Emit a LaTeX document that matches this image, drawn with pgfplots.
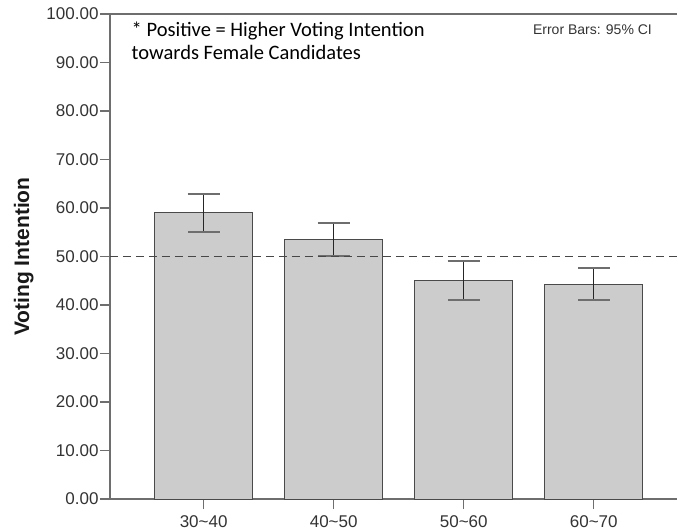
\documentclass[border=0pt]{standalone}
\usepackage{fontspec}
\setmainfont{Liberation Sans}
\newfontfamily\calfont{Carlito}
\usepackage{pgfplots}
\pgfplotsset{compat=1.18}
\definecolor{axisgray}{HTML}{6E6E6E}
\definecolor{barfill}{HTML}{CCCCCC}
\definecolor{baredge}{HTML}{4A4A4A}
\definecolor{txtgray}{HTML}{333333}
\begin{document}
\begin{tikzpicture}
\useasboundingbox (-110pt,-32pt) rectangle (568pt,499pt);
\begin{axis}[
  scale only axis,
  width=567pt, height=485pt,
  xmin=-0.72, xmax=3.64,
  ymin=0, ymax=100,
  axis lines*=left,
  axis line style={draw=axisgray, line width=1.4pt},
  xtick={0,1,2,3},
  xticklabels={30\textasciitilde40,40\textasciitilde50,50\textasciitilde60,60\textasciitilde70},
  ytick={0,10,...,100},
  tick align=outside,
  major tick length=10pt,
  tick style={draw=axisgray, line width=1.4pt},
  xtick pos=bottom, ytick pos=left,
  ticklabel style={font=\fontsize{17}{17}\selectfont, text=txtgray},
  yticklabel style={xshift=2pt},
  xticklabel style={yshift=-3pt},
  /pgf/number format/.cd, fixed, fixed zerofill, precision=2, assume math mode=true,
  /pgfplots/.cd,
  clip=false,
]
\addplot[ybar, bar width=98pt, fill=barfill, draw=baredge, line width=1pt,
  error bars/.cd, y dir=both, y explicit,
  error bar style={draw=black!85, line width=1.1pt},
  error mark options={rotate=90, draw=axisgray, line width=1.8pt, mark size=16pt}]
  coordinates {
  (0,59.0) +- (0,3.9)
  (1,53.6) += (0,3.3) -= (0,3.5)
  (2,45.0) += (0,4.1) -= (0,4.0)
  (3,44.3) +- (0,3.3)
  };
\draw[draw=black!72, line width=1.8pt, dash pattern=on 8pt off 5pt] (axis cs:-0.72,50) -- (axis cs:3.64,50);
\draw[draw=axisgray, line width=1.4pt] (rel axis cs:0,1) -- (rel axis cs:1,1);
\node[anchor=north west, align=left, font=\calfont\fontsize{20.5}{23.5}\selectfont, inner sep=0pt] at (axis description cs:0.038,0.985) {* Positive = Higher Voting Intention\\towards Female Candidates};
\node[anchor=north east, font=\fontsize{14}{14}\selectfont, text=txtgray, inner sep=0pt] at (axis description cs:0.956,0.978) {Error Bars: 95\% CI};
\node[rotate=90, font=\bfseries\fontsize{21}{21}\selectfont, text=black!90] at (axis description cs:-0.152,0.5) {Voting Intention};
\end{axis}
\end{tikzpicture}
\end{document}
